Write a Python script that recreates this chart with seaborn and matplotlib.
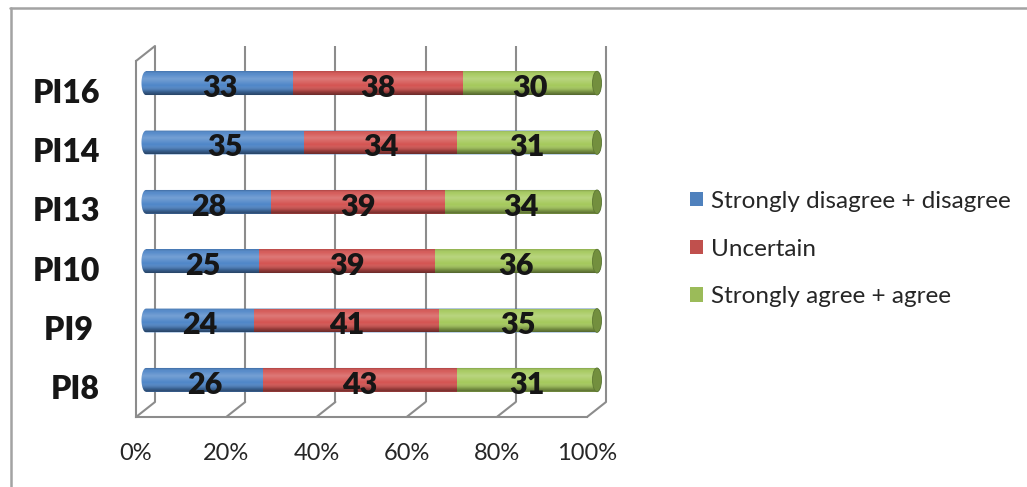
import numpy as np
import pandas as pd
import matplotlib
matplotlib.use("Agg")
import matplotlib.pyplot as plt
import seaborn as sns
from matplotlib.transforms import Affine2D, IdentityTransform
from matplotlib.patches import Ellipse, PathPatch, Rectangle
from matplotlib.path import Path
from matplotlib.lines import Line2D

# ---- data -------------------------------------------------------------
items = ["PI16", "PI14", "PI13", "PI10", "PI9", "PI8"]
item_labels = ["PI16", "PI14", "PI13", "PI10", "PI9 ", "PI8"]
disagree = [33, 35, 28, 25, 24, 26]
uncertain = [38, 34, 39, 39, 41, 43]
agree = [30, 31, 34, 36, 35, 31]
series_names = ["Strongly disagree + disagree", "Uncertain", "Strongly agree + agree"]
x_ticks = [0, 20, 40, 60, 80, 100]
x_tick_labels = ["0%", "20%", "40%", "60%", "80%", "100%"]

legend_colors = ["#4F81BD", "#C0504D", "#9BBB59"]
body_colors = ["#4F86C8", "#D45452", "#A5C95C"]
face_color = "#738F3E"
grid_color = "#8C8C8C"

# ---- style ------------------------------------------------------------
sns.set_style("white")
plt.rcParams["font.family"] = ["Lato", "DejaVu Sans"]

W, H = 1027, 487
fig = plt.figure(figsize=(W / 100, H / 100), dpi=100)
fig.patch.set_facecolor("white")

# front plane of the 3D box in pixel coordinates
fx0, fx1, fy_top, fy_bot = 136, 587, 61, 417
ax = fig.add_axes([fx0 / W, 1 - fy_bot / H, (fx1 - fx0) / W, (fy_bot - fy_top) / H])
ax.set_facecolor("none")

# ---- 100% stacked values ----------------------------------------------
vals = np.array([disagree, uncertain, agree], dtype=float)
pct = vals / vals.sum(axis=0) * 100
cum = np.cumsum(pct, axis=0)

bar_w = 0.4
for k in range(2, -1, -1):
    df = pd.DataFrame({"item": items, "cum": cum[k]})
    sns.barplot(data=df, x="cum", y="item", order=items, orient="h",
                color=body_colors[k], saturation=1, width=bar_w,
                errorbar=None, ax=ax, zorder=2)

ax.set_xlim(0, 100)
ax.set_ylim(len(items) - 0.5, -0.5)

# bars sit half way into the depth of the box
mid = Affine2D().translate(10, 7.5)
back = Affine2D().translate(19, 15)
bar_trans = ax.transData + mid
for p in ax.patches:
    p.set_transform(bar_trans)
    p.set_clip_on(False)
    p.set_linewidth(0)

# ---- back wall gridlines and floor diagonals --------------------------
for xv in x_ticks:
    ax.plot([xv, xv], [len(items) - 0.5, -0.5], color=grid_color, lw=1.5,
            transform=ax.transData + back, clip_on=False, zorder=0.5,
            solid_capstyle="butt")
    x0, y0 = ax.transData.transform((xv, len(items) - 0.5))
    fig.add_artist(Line2D([x0, x0 + 19], [y0, y0 + 15], color=grid_color, lw=1.5,
                          transform=IdentityTransform(), zorder=0.5))
xl, yt = ax.transData.transform((0, -0.5))
fig.add_artist(Line2D([xl, xl + 19], [yt, yt + 15], color=grid_color, lw=1.5,
                      transform=IdentityTransform(), zorder=0.5))

# ---- cylinder shading --------------------------------------------------
n = 64
t = np.linspace(0, 1, n)
stops_t = [0.0, 0.12, 0.32, 0.6, 0.85, 1.0]
stops_c = [(0, 0, 0, 0.18), (1, 1, 1, 0.05), (1, 1, 1, 0.22),
           (1, 1, 1, 0.0), (0, 0, 0, 0.25), (0, 0, 0, 0.5)]
grad = np.zeros((n, 1, 4))
for c in range(4):
    grad[:, 0, c] = np.interp(t, stops_t, [s[c] for s in stops_c])

px_unit = (fy_bot - fy_top) / len(items)
hh = bar_w / 2 * px_unit
rx = 4.5
label_shift = ax.transData + Affine2D().translate(10, 2.5)
for j in range(len(items)):
    L = bar_trans.transform((0, j))
    R = bar_trans.transform((100, j))
    yc = L[1]
    pts = [(L[0], yc + hh), (R[0], yc + hh)]
    for th in np.linspace(np.pi / 2, -np.pi / 2, 20):
        pts.append((R[0] + rx * np.cos(th), yc + hh * np.sin(th)))
    pts.append((L[0], yc - hh))
    for th in np.linspace(-np.pi / 2, -3 * np.pi / 2, 20):
        pts.append((L[0] + rx * np.cos(th), yc + hh * np.sin(th)))
    pts.append(pts[0])
    stadium = Path(pts, closed=True)
    base = PathPatch(stadium, facecolor=body_colors[0], edgecolor="none",
                     transform=IdentityTransform(), zorder=1.5)
    ax.add_patch(base)
    base.set_clip_on(False)

    im = ax.imshow(grad, extent=(-2, 102, j + bar_w / 2, j - bar_w / 2),
                   aspect="auto", interpolation="bilinear",
                   transform=bar_trans, zorder=3)
    clipper = PathPatch(stadium, transform=IdentityTransform())
    im.set_clip_path(clipper)
    im.set_clip_box(fig.bbox)

    face = Ellipse((R[0], yc), width=2 * rx, height=2 * hh, facecolor=face_color,
                   edgecolor="#5E7832", lw=0.6, transform=IdentityTransform(),
                   zorder=3.5)
    ax.add_patch(face)
    face.set_clip_on(False)

    # value labels in the middle of each segment
    starts = np.concatenate([[0], cum[:-1, j]])
    for k in range(3):
        xm = (starts[k] + cum[k, j]) / 2
        ax.text(xm, j, f"{int(vals[k, j])}", transform=label_shift,
                ha="center", va="center", fontsize=22, fontweight="heavy",
                color="#161616", zorder=5)

ax.set_xlim(0, 100)
ax.set_ylim(len(items) - 0.5, -0.5)

# ---- axes -------------------------------------------------------------
for s in ["top", "right"]:
    ax.spines[s].set_visible(False)
for s in ["left", "bottom"]:
    ax.spines[s].set_color(grid_color)
    ax.spines[s].set_linewidth(1.5)

ax.set_xticks(x_ticks)
ax.set_xticklabels(x_tick_labels, fontsize=17, color="#262626")
ax.tick_params(axis="x", direction="out", length=6, width=1.5, color=grid_color, pad=13)

bounds = np.arange(-0.5, len(items), 1.0)
ax.set_yticks(bounds)
ax.set_yticklabels([""] * len(bounds))
ax.tick_params(axis="y", which="major", direction="out", length=9, width=1.5, color=grid_color)
ax.set_yticks(range(len(items)), minor=True)
ax.set_yticklabels(item_labels, minor=True, fontsize=23, fontweight="heavy", color="#161616")
ax.tick_params(axis="y", which="minor", length=0, pad=26)
ax.set_xlabel("")
ax.set_ylabel("")
ax.grid(False)

# ---- legend -----------------------------------------------------------
handles = [Rectangle((0, 0), 1, 1, facecolor=c, edgecolor="none") for c in legend_colors]
fig.legend(handles, series_names, loc="center left",
           bbox_to_anchor=(690 / W, 1 - 249 / H), frameon=False, fontsize=17.5,
           handlelength=0.55, handleheight=0.55, handletextpad=0.3,
           labelspacing=1.1, borderpad=0, borderaxespad=0, labelcolor="#262626")

# ---- outer chart border ----------------------------------------------
fig.add_artist(Line2D([10, W], [H - 8, H - 8], color="#A3A3A3", lw=1.8,
                      transform=IdentityTransform()))
fig.add_artist(Line2D([11, 11], [0, H - 8], color="#A3A3A3", lw=1.8,
                      transform=IdentityTransform()))

fig.savefig("out.png", dpi=100, facecolor="white")
